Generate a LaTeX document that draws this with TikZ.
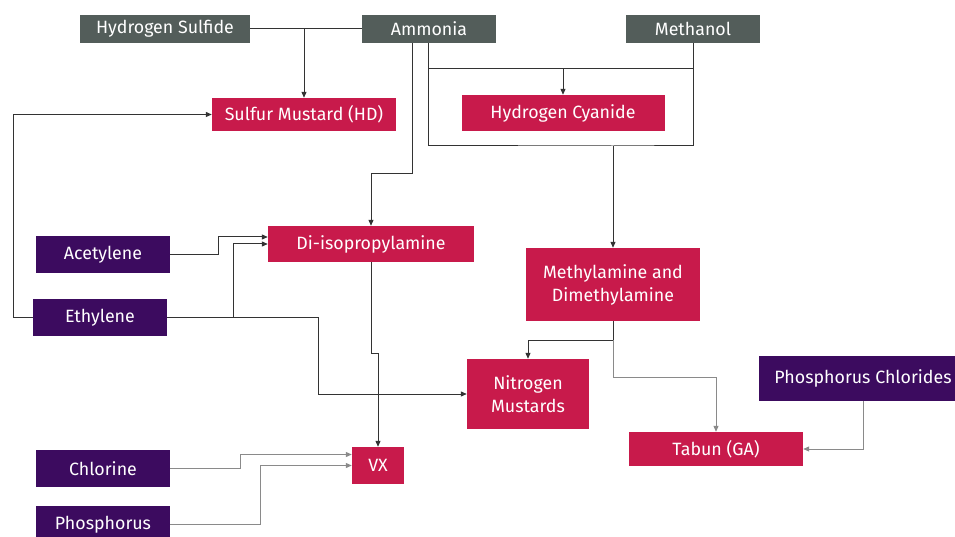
\documentclass[tikz,border=0pt]{standalone}
\usepackage{fontspec}
\setmainfont{Fira Sans}
\usetikzlibrary{arrows.meta}
\definecolor{slate}{HTML}{535D5A}
\definecolor{crimson}{HTML}{C81A4B}
\definecolor{plum}{HTML}{3C0B5F}
\definecolor{darkline}{HTML}{333333}
\definecolor{greyline}{HTML}{8A8A8A}
\begin{document}
\begin{tikzpicture}[x=1pt,y=-1pt,
  box/.style={rectangle, inner sep=0pt, text=white, align=center,
    font=\fontsize{17.8}{23}\selectfont},
  src/.style={box, fill=slate},
  agent/.style={box, fill=crimson},
  raw/.style={box, fill=plum},
  plain/.style={draw=darkline, line width=1pt},
  link/.style={plain, -{Triangle[length=6pt,width=5pt]}},
  glink/.style={link, draw=greyline},
  ]
\clip (0,0) rectangle (955,537);
\fill[white] (0,0) rectangle (955,537);

% source nodes
\node[src, minimum width=170, minimum height=28] (hs) at (165,29) {Hydrogen Sulfide};
\node[src, minimum width=134, minimum height=28] (am) at (429,29) {Ammonia};
\node[src, minimum width=134, minimum height=28] (me) at (693,29) {Methanol};

% agents / products
\node[agent, minimum width=184, minimum height=33] (hd) at (304,114.5) {Sulfur Mustard (HD)};
\node[agent, minimum width=203, minimum height=36] (hcn) at (563,113) {Hydrogen Cyanide};
\node[agent, minimum width=206, minimum height=36] (dip) at (371,244) {Di-isopropylamine};
\node[agent, minimum width=174, minimum height=73] (mdm) at (613,284.5) {Methylamine and\\Dimethylamine};
\node[agent, minimum width=122, minimum height=70] (nm) at (528,394) {Nitrogen\\Mustards};
\node[agent, minimum width=174, minimum height=34] (ga) at (716,449) {Tabun (GA)};
\node[agent, minimum width=52, minimum height=37] (vx) at (378,465.5) {VX};

% raw materials
\node[raw, minimum width=134, minimum height=37] (ac) at (103,254.5) {Acetylene};
\node[raw, minimum width=134, minimum height=37] (eth) at (100,317.5) {Ethylene};
\node[raw, minimum width=208, minimum height=45] (pc) at (863,378.5) {Phosphorus Chlorides};
\node[raw, minimum width=134, minimum height=37] (cl) at (103,468.5) {Chlorine};
\node[raw, minimum width=134, minimum height=37] (ph) at (103,524.5) {Phosphorus};

% junction coordinates
\coordinate (jt) at (563,69);
\coordinate (jb) at (613,146);
\coordinate (jm) at (613,340);

% Hydrogen sulfide + ammonia -> sulfur mustard
\draw[plain] (hs.east) -- (am.west);
\draw[link] (hs.east -| hd.north) -- (hd.north);

% ammonia -> di-isopropylamine
\draw[link] ([xshift=-17]am.south) -- ++(0,130) -| (dip.north);

% ammonia + methanol frame -> hydrogen cyanide, methylamines
\draw[plain] ([xshift=-1]am.south) |- (jb) -| (me.south);
\draw[plain] ([xshift=-1]am.south |- jt) -- (me.south |- jt);
\draw[link] (jt) -- (hcn.north);
\draw[link] (jb) -- (mdm.north);

% ethylene -> sulfur mustard
\draw[link] (eth.west) -- ++(-19,0) |- (hd.west);

% acetylene, ethylene -> di-isopropylamine
\draw[link] (ac.east) -- ++(48,0) |- ([yshift=7]dip.west);
\draw[link] (eth.east) -- ++(66,0) |- (dip.west);

% ethylene -> nitrogen mustards
\draw[link] (eth.east) -- ++(151,0) |- (nm.west);

% di-isopropylamine -> VX
\draw[link] (dip.south) -- ++(0,91) -| (vx.north);

% methylamines -> nitrogen mustards, tabun
\draw[link] (mdm.south) -- (jm) -| (nm.north);
\draw[glink] (jm) -- ++(0,37) -| (ga.north);

% phosphorus chlorides -> tabun
\draw[glink] (pc.south) |- (ga.east);

% chlorine, phosphorus -> VX
\draw[glink] (cl.east) -- ++(70,0) |- ([yshift=11]vx.west);
\draw[glink] (ph.east) -- ++(90,0) |- (vx.west);
\end{tikzpicture}
\end{document}
